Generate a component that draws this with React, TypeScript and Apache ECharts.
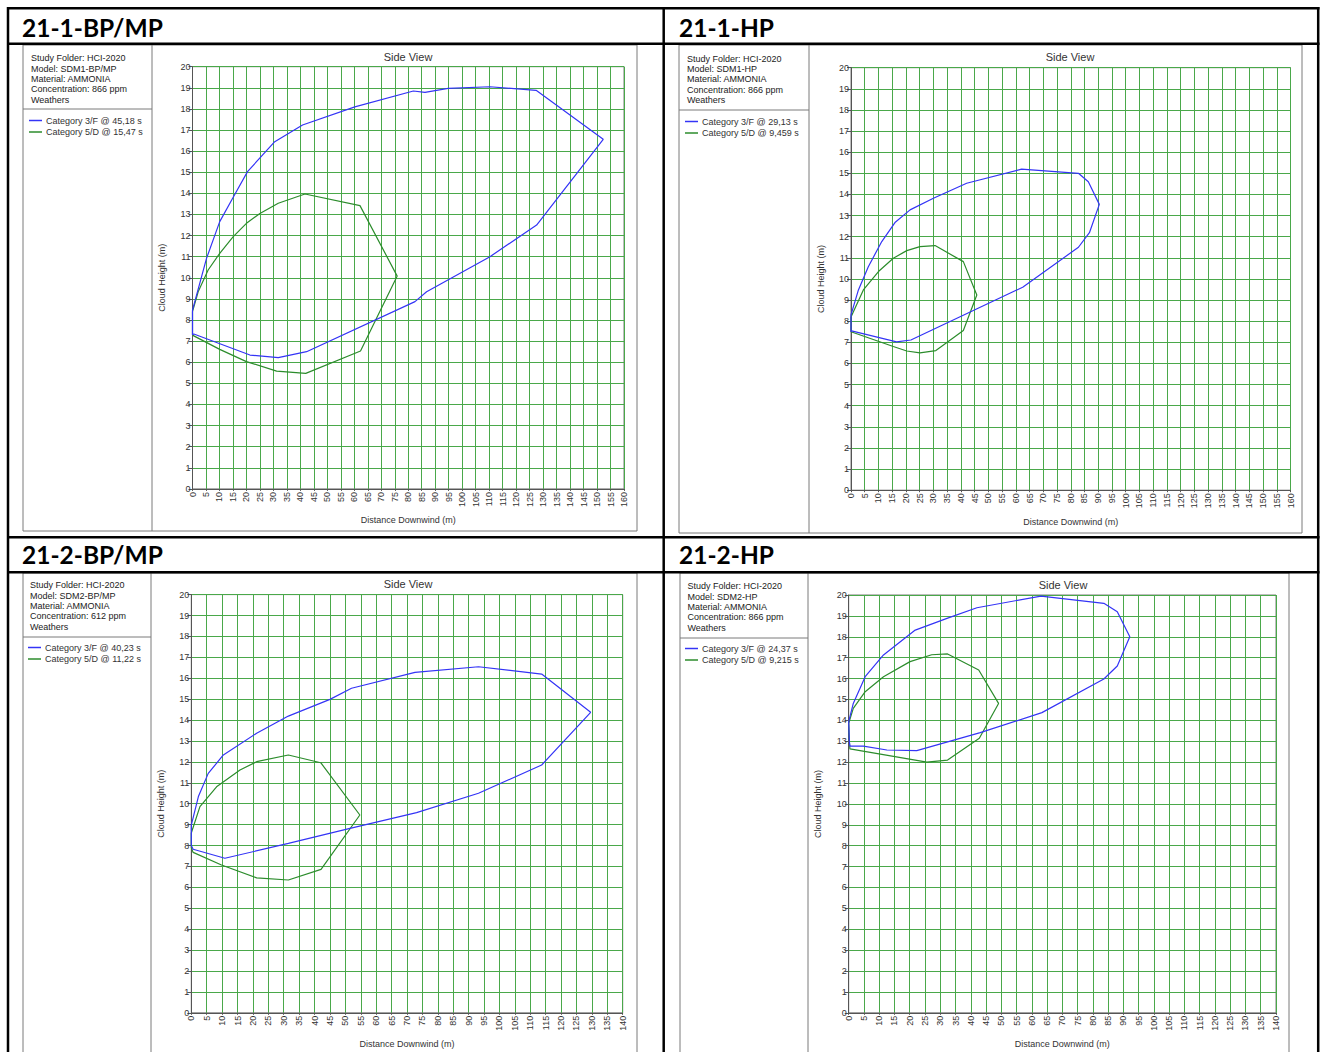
import React, { useEffect, useRef } from 'react';
import * as echarts from 'echarts';

// ---------- data ----------
const panelTitles = ['21-1-BP/MP', '21-1-HP', '21-2-BP/MP', '21-2-HP'];
const panelModels = ['SDM1-BP/MP', 'SDM1-HP', 'SDM2-BP/MP', 'SDM2-HP'];
const panelConcentrations = ['866 ppm', '866 ppm', '612 ppm', '866 ppm'];
const studyFolder = 'HCI-2020';
const material = 'AMMONIA';
const names3F = ['Category 3/F @ 45,18 s', 'Category 3/F @ 29,13 s', 'Category 3/F @ 40,23 s', 'Category 3/F @ 24,37 s'];
const names5D = ['Category 5/D @ 15,47 s', 'Category 5/D @ 9,459 s', 'Category 5/D @ 11,22 s', 'Category 5/D @ 9,215 s'];
const xMaxValues = [160, 160, 140, 140];
const yMaxValues = [20, 20, 20, 20];
const xTickStep = 5;
const yTickStep = 1;
const chartTitle = 'Side View';
const xAxisName = 'Distance Downwind (m)';
const yAxisName = 'Cloud Height (m)';

// 21-1-BP/MP
const p1Cat3F = [
  [0, 8.47], [5.2, 10.92], [10.1, 12.66], [15.2, 13.84], [20.4, 15.03], [30.5, 16.45], [40.8, 17.24],
  [60.2, 18.1], [81.9, 18.85], [86.2, 18.78], [94.8, 18.97], [110.3, 19.05], [127.4, 18.88],
  [152.3, 16.56], [127.6, 12.5], [110.3, 11.0], [86.8, 9.34], [82.5, 8.87], [42.3, 6.5],
  [31.8, 6.22], [21.3, 6.34], [0.5, 7.34], [0, 7.3], [0, 8.47],
];
const p1Cat5D = [
  [0, 8.4], [2.1, 9.34], [5.8, 10.37], [10.1, 11.16], [15.1, 11.95], [20, 12.58], [25, 13.05],
  [31.8, 13.53], [41.7, 13.97], [62.1, 13.42], [75.9, 10.08], [62.3, 6.53], [42, 5.47],
  [31.2, 5.58], [20, 6.03], [10.1, 6.61], [0.3, 7.26], [0, 7.3], [0, 8.4],
];
// 21-1-HP
const p2Cat3F = [
  [0, 8.3], [2.7, 9.48], [6.3, 10.58], [11.2, 11.77], [16, 12.67], [21.5, 13.27], [30, 13.82],
  [42.1, 14.53], [62.1, 15.2], [82.8, 15.0], [86.4, 14.6], [90.4, 13.53], [86.8, 12.19],
  [82.8, 11.5], [62.5, 9.61], [21.8, 7.11], [16.6, 7.02], [0.2, 7.54], [0, 7.5], [0, 8.3],
];
const p2Cat5D = [
  [0, 8.2], [4.5, 9.48], [10, 10.35], [15.4, 10.98], [20.3, 11.34], [25.1, 11.53], [30.6, 11.58],
  [40.9, 10.82], [45.8, 9.24], [40.9, 7.56], [30.9, 6.61], [25.1, 6.5], [20.3, 6.59],
  [15.4, 6.8], [0, 7.5], [0, 8.2],
];
// 21-2-BP/MP
const p3Cat3F = [
  [0, 8.98], [2.3, 10.34], [5.5, 11.45], [10.4, 12.33], [21.2, 13.37], [31.5, 14.19], [45, 14.99],
  [52, 15.52], [72.6, 16.28], [93.2, 16.55], [113.7, 16.2], [129.6, 14.37], [113.7, 11.85],
  [93.2, 10.5], [73.1, 9.57], [51.5, 8.82], [31.5, 8.1], [10.9, 7.39], [0.6, 7.82], [0, 8.0], [0, 8.98],
];
const p3Cat5D = [
  [0, 8.6], [2.8, 9.86], [8.2, 10.81], [15.8, 11.61], [21.2, 12.01], [31.5, 12.33], [42, 11.96],
  [54.7, 9.46], [42.1, 6.86], [31.5, 6.35], [21.2, 6.45], [9.8, 7.07], [0.6, 7.67], [0, 7.9], [0, 8.6],
];
// 21-2-HP
const p4Cat3F = [
  [0, 13.94], [1.5, 14.81], [5.4, 16.09], [11.4, 17.13], [21.8, 18.32], [32.2, 18.88], [42, 19.39],
  [63, 19.95], [83.6, 19.6], [88, 19.2], [92.1, 18.0], [88, 16.6], [83.6, 15.98], [63.3, 14.37],
  [43.1, 13.41], [22.3, 12.55], [12.5, 12.58], [4.8, 12.77], [0.4, 12.77], [0.2, 13.0], [0, 13.94],
];
const p4Cat5D = [
  [0, 13.86], [1.5, 14.57], [5.4, 15.37], [11.4, 16.09], [20.1, 16.81], [27.2, 17.14], [32.4, 17.18],
  [42.6, 16.41], [49.1, 14.81], [42.8, 13.14], [32.4, 12.1], [25.6, 12.0], [0.4, 12.63], [0.2, 13.0], [0, 13.86],
];
const cat3FData = [p1Cat3F, p2Cat3F, p3Cat3F, p4Cat3F];
const cat5DData = [p1Cat5D, p2Cat5D, p3Cat5D, p4Cat5D];

// ---------- layout ----------
const layouts = [
  { box: [23, 45, 637, 531], divider: 152, sep: 109, textX: 31, textTop: 53, legend: [29, 116], grid: [192.5, 66.7, 431.5, 422.2], side: [408, 57], header: [22, 27] },
  { box: [679, 45, 1302, 533], divider: 809, sep: 110, textX: 687, textTop: 53.5, legend: [685, 117], grid: [851, 67.7, 439.5, 422.5], side: [1070, 57], header: [679, 27] },
  { box: [23, 573, 637, 1070], divider: 151, sep: 637, textX: 30, textTop: 580, legend: [28, 643], grid: [191.3, 594.6, 431.4, 418.2], side: [408, 584], header: [22, 554] },
  { box: [680, 573, 1289, 1070], divider: 808, sep: 638, textX: 687.5, textTop: 581, legend: [685, 644], grid: [848.7, 595, 427.3, 417.8], side: [1063, 585], header: [679, 554] },
];

const BLUE = '#3434f6';
const GREEN = '#2c8c2c';
const GRID_GREEN = '#4aa84a';
const FONT = '"Liberation Sans", Arial, sans-serif';

function buildOption() {
  const grid: any[] = [];
  const xAxis: any[] = [];
  const yAxis: any[] = [];
  const series: any[] = [];
  const legend: any[] = [];
  const graphic: any[] = [];

  // table borders
  const tbl = (x1: number, y1: number, x2: number, y2: number) =>
    graphic.push({ type: 'line', shape: { x1, y1, x2, y2 }, style: { stroke: '#000', lineWidth: 2.5 }, z: 50 });
  tbl(7, 8.3, 1319.5, 8.3);
  tbl(7, 43.8, 1319.5, 43.8);
  tbl(7, 537.2, 1319.5, 537.2);
  tbl(7, 572.2, 1319.5, 572.2);
  tbl(8, 7, 8, 1060);
  tbl(663.7, 7, 663.7, 1060);
  tbl(1318.2, 7, 1318.2, 1060);

  layouts.forEach((L, i) => {
    const [gl, gt, gw, gh] = L.grid;
    grid.push({ left: gl, top: gt, width: gw, height: gh, show: true, borderColor: '#7a7a7a', borderWidth: 1, backgroundColor: 'transparent' });
    xAxis.push({
      type: 'value', gridIndex: i, min: 0, max: xMaxValues[i], interval: xTickStep,
      name: xAxisName, nameLocation: 'middle', nameGap: 27,
      nameTextStyle: { fontSize: 9, color: '#333', fontFamily: FONT },
      axisLine: { show: true, onZero: false, lineStyle: { color: '#555', width: 1 } },
      axisTick: { show: true, length: 2, lineStyle: { color: '#555' } },
      axisLabel: { rotate: 90, fontSize: 9, color: '#333', fontFamily: FONT, margin: 3, showMinLabel: true, showMaxLabel: true, hideOverlap: false },
      splitLine: { show: true, lineStyle: { color: GRID_GREEN, width: 1 } },
    });
    yAxis.push({
      type: 'value', gridIndex: i, min: 0, max: yMaxValues[i], interval: yTickStep,
      name: yAxisName, nameLocation: 'middle', nameRotate: 90, nameGap: 26,
      nameTextStyle: { fontSize: 9, color: '#333', fontFamily: FONT },
      axisLine: { show: true, onZero: false, lineStyle: { color: '#555', width: 1 } },
      axisTick: { show: true, length: 4, lineStyle: { color: '#555' } },
      axisLabel: { fontSize: 9, color: '#333', fontFamily: FONT, margin: 2 },
      splitLine: { show: true, lineStyle: { color: GRID_GREEN, width: 1 } },
    });
    series.push({
      type: 'line', name: names3F[i], xAxisIndex: i, yAxisIndex: i, data: cat3FData[i],
      symbol: 'none', lineStyle: { color: BLUE, width: 1.2 }, itemStyle: { color: BLUE }, z: 5,
    });
    series.push({
      type: 'line', name: names5D[i], xAxisIndex: i, yAxisIndex: i, data: cat5DData[i],
      symbol: 'none', lineStyle: { color: GREEN, width: 1.2 }, itemStyle: { color: GREEN }, z: 4,
    });
    legend.push({
      data: [names3F[i], names5D[i]], orient: 'vertical', left: L.legend[0], top: L.legend[1],
      icon: 'rect', itemWidth: 13, itemHeight: 1.5, itemGap: 2.5, padding: 0,
      textStyle: { fontSize: 9, color: '#333', fontFamily: FONT, padding: [0, 0, 0, -1] },
      selectedMode: false,
    });

    const [bx1, by1, bx2, by2] = L.box;
    graphic.push({ type: 'rect', shape: { x: bx1, y: by1, width: bx2 - bx1, height: by2 - by1 }, style: { fill: 'none', stroke: '#7a7a7a', lineWidth: 1 }, z: 10 });
    graphic.push({ type: 'line', shape: { x1: L.divider, y1: by1, x2: L.divider, y2: by2 }, style: { stroke: '#7a7a7a', lineWidth: 1 }, z: 10 });
    graphic.push({ type: 'line', shape: { x1: bx1, y1: L.sep, x2: L.divider, y2: L.sep }, style: { stroke: '#7a7a7a', lineWidth: 1 }, z: 10 });
    const info = [
      'Study Folder: ' + studyFolder,
      'Model: ' + panelModels[i],
      'Material: ' + material,
      'Concentration: ' + panelConcentrations[i],
      'Weathers',
    ];
    graphic.push({
      type: 'text', x: L.textX, y: L.textTop, z: 20,
      style: { text: info.join('\n'), font: '9px ' + FONT, fill: '#222', lineHeight: 10.35, align: 'left', verticalAlign: 'top' },
    });
    graphic.push({
      type: 'text', x: L.side[0], y: L.side[1], z: 20,
      style: { text: chartTitle, font: '11px ' + FONT, fill: '#333', align: 'center', verticalAlign: 'middle' },
    });
    graphic.push({
      type: 'text', x: L.header[0], y: L.header[1], z: 20,
      style: { text: panelTitles[i], font: 'bold 24.5px Lato, "Open Sans", sans-serif', fill: '#000', align: 'left', verticalAlign: 'middle' },
    });
  });

  return { animation: false, backgroundColor: '#fff', grid, xAxis, yAxis, series, legend, graphic };
}

export default function App() {
  const ref = useRef<HTMLDivElement>(null);
  useEffect(() => {
    if (!ref.current) return;
    const chart = echarts.init(ref.current, undefined, { renderer: 'svg' });
    chart.setOption(buildOption() as any);
    return () => chart.dispose();
  }, []);
  return <div ref={ref} style={{ position: 'absolute', left: 0, top: 0, width: 1324, height: 1052 }} />;
}
